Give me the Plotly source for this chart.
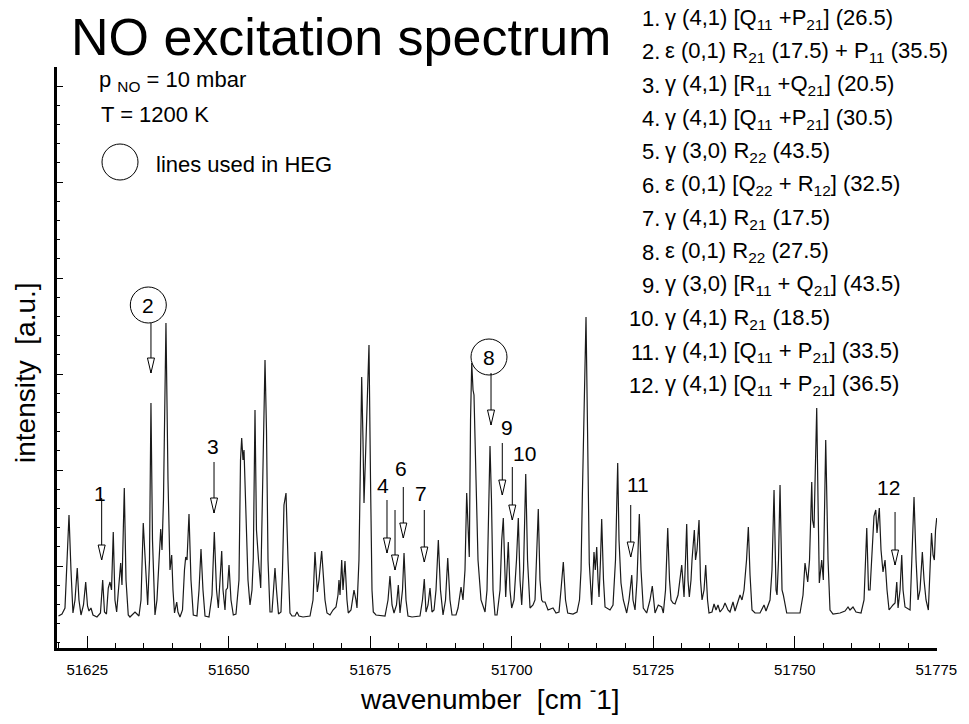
import plotly.graph_objects as go

# ---------------- spectrum data (wavenumber in cm^-1, intensity in a.u.) ----------------
wn_a = [51619.91, 51620.53, 51621.06, 51621.41, 51621.77, 51622.12, 51622.47, 51622.83, 51623.23, 51623.53,
        51623.89, 51624.33, 51624.72, 51625.04, 51625.30, 51625.65, 51626.01, 51626.71, 51627.33, 51627.72,
        51628.04, 51628.39, 51628.71, 51629.01, 51629.28, 51629.59, 51629.89, 51630.19, 51630.55, 51630.90,
        51631.13, 51631.54, 51631.84, 51632.24, 51632.54, 51633.07, 51633.43, 51633.78, 51634.13, 51634.49,
        51634.89, 51635.19, 51635.67, 51635.99, 51636.25, 51636.52, 51636.96, 51637.31, 51637.67, 51637.97,
        51638.20, 51638.46, 51638.90, 51639.26, 51639.61, 51639.91, 51640.14, 51640.41, 51640.80, 51641.02,
        51641.38, 51641.82, 51642.17, 51642.39, 51642.62, 51642.97, 51643.32, 51643.73, 51644.38, 51644.74,
        51645.09, 51645.44, 51645.80, 51646.50, 51647.03, 51647.44, 51647.83, 51648.15, 51648.45, 51648.75,
        51648.98, 51649.33, 51649.51, 51649.77, 51650.04, 51650.39, 51650.80, 51651.27, 51651.80, 51652.07,
        51652.28, 51652.51, 51652.69, 51653.04, 51653.39, 51653.75, 51654.10, 51654.33, 51654.63, 51654.89,
        51655.04, 51655.25, 51655.64, 51655.95, 51656.40, 51656.66, 51656.93, 51657.28, 51657.63, 51657.90,
        51658.16, 51658.43, 51658.78, 51659.22, 51659.49, 51659.75]
int_a = [1, 3, 9, 57, 102, 47, 4, 17, 49, 17,
         2, 12, 35, 11, 6, 9, 2, 0, 4, 37,
         5, 3, 29, 35, 27, 85, 17, 5, 27, 54,
         32, 129, 37, 2, 0, 3, 5, 3, 1, 17,
         94, 62, 12, 57, 214, 77, 2, 17, 57, 88,
         67, 117, 294, 137, 47, 62, 27, 4, 15, 5,
         0, 7, 47, 60, 57, 103, 37, 2, 1, 27,
         68, 27, 1, 0, 22, 85, 27, 9, 37, 66,
         27, 7, 27, 29, 52, 17, 2, 3, 37, 157,
         179, 157, 167, 97, 37, 12, 27, 59, 207, 87,
         72, 57, 29, 117, 257, 187, 57, 5, 5, 27,
         49, 27, 3, 5, 47, 112]

wn_b = [51660.11, 51660.46, 51660.81, 51661.17, 51661.70, 51662.05, 51662.40, 51663.11, 51664.35, 51664.88,
        51665.23, 51665.64, 51665.94, 51666.41, 51666.73, 51667.00, 51667.35, 51667.88, 51668.41, 51668.94,
        51669.29, 51669.47, 51669.65, 51669.95, 51670.18, 51670.53, 51670.88, 51671.11, 51671.59, 51672.12,
        51672.47, 51672.65, 51673.00, 51673.27, 51673.48, 51673.71, 51673.89, 51674.19, 51674.51, 51674.77,
        51675.04, 51675.30, 51675.53, 51676.01, 51677.60, 51678.13, 51678.48, 51678.84, 51679.19, 51679.63,
        51679.95, 51680.25, 51680.69, 51680.96, 51681.31, 51681.66, 51682.37, 51683.78, 51684.22, 51684.54,
        51684.84, 51685.20, 51685.55, 51685.90, 51686.26, 51686.61, 51687.02, 51687.40, 51687.85, 51688.29,
        51688.68, 51689.08, 51689.44, 51690.14, 51690.50, 51691.03, 51691.38, 51691.73, 51692.03, 51692.49,
        51692.71, 51692.92, 51693.15, 51693.32, 51693.68, 51694.03, 51694.56, 51695.27, 51695.62, 51695.88,
        51696.15, 51696.41, 51696.68, 51697.03, 51697.39, 51697.92, 51698.22, 51698.50]
int_b = [124, 57, 4, 1, 1, 5, 1, 0, 1, 17,
         65, 25, 37, 66, 32, 17, 4, 2, 7, 10,
         22, 37, 22, 57, 27, 56, 17, 4, 7, 27,
         17, 9, 57, 187, 240, 177, 114, 167, 217, 272,
         137, 27, 5, 2, 1, 17, 41, 12, 4, 12,
         32, 4, 27, 64, 17, 1, 0, 1, 17, 38,
         5, 12, 29, 5, 7, 27, 77, 27, 2, 17,
         59, 17, 2, 2, 9, 30, 17, 47, 124, 60,
         197, 254, 227, 222, 137, 57, 17, 5, 27, 117,
         171, 117, 27, 2, 2, 27, 77, 99]

wn_c = [51698.71, 51698.92, 51699.15, 51699.38, 51699.68, 51699.98, 51700.39, 51700.83, 51701.15, 51701.45,
        51701.75, 51702.07, 51702.46, 51702.78, 51703.22, 51703.75, 51704.10, 51704.37, 51704.68, 51704.98,
        51705.28, 51705.51, 51705.87, 51706.40, 51707.28, 51707.81, 51708.34, 51708.69, 51709.10, 51709.49,
        51709.88, 51710.81, 51711.52, 51711.96, 51712.23, 51712.46, 51712.76, 51713.11, 51713.38, 51713.69,
        51714.12, 51714.35, 51714.52, 51714.75, 51715.00, 51715.23, 51715.41, 51715.67, 51715.88, 51716.20,
        51716.47, 51717.35, 51717.88, 51718.32, 51718.71, 51718.94, 51719.29, 51719.70, 51720.30, 51720.71,
        51721.19, 51721.41, 51721.77, 51722.12, 51722.53, 51722.83, 51723.23, 51723.83, 51724.42, 51724.82,
        51725.12, 51725.30, 51725.88, 51726.49, 51726.77, 51727.16, 51727.55, 51727.86, 51728.13, 51728.48,
        51728.84, 51729.37, 51730.02, 51730.25, 51730.43, 51730.69, 51730.90, 51731.13, 51731.36, 51731.66,
        51731.84, 51732.25, 51732.46, 51732.72, 51733.08, 51733.34, 51733.61, 51733.96, 51734.26, 51734.58,
        51734.84, 51735.37, 51735.73, 51736.08, 51736.43, 51736.79, 51737.32]
int_c = [57, 20, 47, 75, 27, 9, 17, 57, 99, 37,
         12, 47, 143, 57, 9, 12, 17, 57, 108, 37,
         17, 15, 15, 7, 9, 4, 5, 27, 55, 17,
         4, 3, 5, 17, 47, 120, 197, 300, 187, 54,
         12, 37, 65, 47, 70, 37, 20, 57, 98, 37,
         10, 7, 12, 57, 154, 77, 34, 17, 4, 17,
         42, 17, 7, 37, 103, 47, 9, 4, 17, 31,
         9, 4, 12, 10, 4, 27, 89, 37, 17, 14,
         13, 22, 52, 27, 20, 57, 93, 37, 20, 37,
         57, 87, 57, 67, 97, 37, 17, 27, 52, 17,
         4, 5, 13, 7, 12, 5, 9]

wn_d = [51737.67, 51738.20, 51738.55, 51739.08, 51739.44, 51739.79, 51740.32, 51740.67, 51741.03, 51741.47,
        51741.79, 51742.09, 51742.44, 51742.97, 51743.85, 51744.56, 51744.91, 51745.62, 51745.97, 51746.33,
        51746.68, 51746.86, 51747.12, 51747.39, 51747.74, 51747.97, 51748.57, 51749.15, 51750.92, 51751.45,
        51751.80, 51752.28, 51752.60, 51752.99, 51753.13, 51753.39, 51753.87, 51754.10, 51754.33, 51754.75,
        51755.04, 51755.46, 51755.87, 51756.22, 51756.75, 51757.99, 51758.87, 51759.40, 51759.75, 51760.28,
        51760.81, 51761.70, 51762.23, 51762.71, 51763.02, 51763.29, 51763.64, 51763.99, 51764.30, 51764.52,
        51764.93, 51765.23, 51765.58, 51765.94, 51766.29, 51766.65, 51767.35, 51767.71, 51768.01, 51768.24,
        51768.59, 51768.89, 51769.12, 51769.47, 51770.36, 51770.71, 51771.06, 51771.42, 51771.77, 51772.12,
        51772.53, 51772.83, 51773.18, 51773.59, 51773.89, 51774.15, 51774.42, 51774.65, 51774.86, 51775.07]
int_d = [14, 7, 5, 15, 6, 12, 22, 17, 27, 57,
         90, 42, 7, 4, 4, 12, 6, 17, 47, 127,
         27, 22, 57, 132, 27, 22, 4, 4, 4, 22,
         54, 35, 57, 135, 97, 89, 209, 117, 34, 57,
         37, 177, 57, 7, 3, 4, 6, 10, 7, 10,
         5, 4, 17, 89, 27, 27, 67, 101, 107, 84,
         109, 67, 45, 57, 27, 7, 12, 14, 35, 9,
         27, 62, 27, 10, 7, 57, 120, 57, 17, 27,
         65, 37, 17, 7, 47, 84, 62, 57, 87, 99]

for xs, ys in ((wn_a, int_a), (wn_b, int_b), (wn_c, int_c), (wn_d, int_d)):
    assert len(xs) == len(ys), (len(xs), len(ys))

wavenumber = wn_a + wn_b + wn_c + wn_d
intensity = int_a + int_b + int_c + int_d

# ---------------- line markers ----------------
line_labels = ["1", "2", "3", "4", "", "6", "7", "8", "9", "10", "11", "12"]
arrow_wn = [51627.54, 51636.25, 51647.39, 51677.95, 51679.37, 51680.83, 51684.54, 51696.33,
            51698.32, 51700.09, 51721.01, 51767.71]
arrow_top = [119, 294, 155, 117, 107, 130, 107, 244, 174, 150, 112, 105]
arrow_tip = [57, 244, 104, 64, 47, 79, 55, 192, 122, 97, 60, 52]
label_wn = [51627.25, 51635.78, 51647.16, 51677.30, None, 51680.43, 51683.96, 51695.97,
            51699.10, 51702.21, 51722.35, 51766.52]
label_int = [124, 312, 171, 132, None, 149, 124, 260, 190, 164, 133, 130]
circled = ["2", "8"]

assignments = [
    "γ (4,1) [Q<sub>11</sub> +P<sub>21</sub>] (26.5)",
    "ε (0,1) R<sub>21</sub> (17.5) + P<sub>11</sub> (35.5)",
    "γ (4,1) [R<sub>11</sub> +Q<sub>21</sub>] (20.5)",
    "γ (4,1) [Q<sub>11</sub> +P<sub>21</sub>] (30.5)",
    "γ (3,0) R<sub>22</sub> (43.5)",
    "ε (0,1) [Q<sub>22</sub> + R<sub>12</sub>] (32.5)",
    "γ (4,1) R<sub>21</sub> (17.5)",
    "ε (0,1) R<sub>22</sub> (27.5)",
    "γ (3,0) [R<sub>11</sub> + Q<sub>21</sub>] (43.5)",
    "γ (4,1) R<sub>21</sub> (18.5)",
    "γ (4,1) [Q<sub>11</sub> + P<sub>21</sub>] (33.5)",
    "γ (4,1) [Q<sub>11</sub> + P<sub>21</sub>] (36.5)",
]

# ---------------- layout geometry ----------------
W, H = 969, 724
ML, MR, MT, MB = 57, 32, 67, 76
PW, PH = W - ML - MR, H - MT - MB
FONT = "Liberation Sans, Arial, Helvetica, sans-serif"


def px(xp):
    return (xp - ML) / PW


def py(yp):
    return (H - MB - yp) / PH


fig = go.Figure()
fig.add_trace(go.Scatter(x=wavenumber, y=intensity, mode="lines",
                         line=dict(color="#1a1a1a", width=1.2), hoverinfo="skip",
                         showlegend=False))

annotations = []
shapes = []


def text(t, x, y, size, xanchor="left", yanchor="middle", xref="paper", yref="paper", angle=0):
    annotations.append(dict(text=t, x=x, y=y, xref=xref, yref=yref, xanchor=xanchor,
                            yanchor=yanchor, showarrow=False, textangle=angle,
                            borderpad=0, font=dict(family=FONT, size=size, color="black")))


# title
text("NO excitation spectrum", px(70), py(37), 52)

# assignment list (top right)
for k, desc in enumerate(assignments):
    yc = 18.5 + 33.36 * k
    text(f"{k + 1}.", px(661), py(yc), 22, xanchor="right")
    text(desc, px(664), py(yc), 22, xanchor="left")

# conditions
text("p <sub>NO</sub> = 10 mbar", px(98), py(81), 22)
text("T = 1200 K", px(100), py(115), 22)
text("lines used in HEG", px(155), py(164), 22)
shapes.append(dict(type="circle", xref="paper", yref="paper", xsizemode="pixel", ysizemode="pixel",
                   xanchor=px(120), yanchor=py(162), x0=-18, x1=18, y0=-18, y1=18,
                   line=dict(color="black", width=1)))

# axis titles
text("wavenumber&nbsp; [cm <sup>-</sup>1]", px(359), py(697), 28)
text("intensity&nbsp; [a.u.]", px(25), py(373), 28, xanchor="center", angle=-90)

# arrows and labels
for lab, xa, yt, yb, lx, ly in zip(line_labels, arrow_wn, arrow_top, arrow_tip, label_wn, label_int):
    shapes.append(dict(type="line", xref="x", yref="y", x0=xa, x1=xa, y0=yb, y1=yt,
                       line=dict(color="black", width=1)))
    shapes.append(dict(type="path", xref="x", yref="y", xsizemode="pixel", ysizemode="pixel",
                       xanchor=xa, yanchor=yb, path="M-3.5,15 L3.5,15 L0,0 Z",
                       fillcolor="white", line=dict(color="black", width=1)))
    if lab:
        text(lab, lx, ly, 21, xanchor="center", xref="x", yref="y")
        if lab in circled:
            shapes.append(dict(type="circle", xref="x", yref="y", xsizemode="pixel",
                               ysizemode="pixel", xanchor=lx, yanchor=ly,
                               x0=-18, x1=18, y0=-18, y1=18,
                               line=dict(color="black", width=1)))

fig.update_layout(
    width=W, height=H,
    margin=dict(l=ML, r=MR, t=MT, b=MB, pad=0),
    paper_bgcolor="white", plot_bgcolor="white",
    annotations=annotations, shapes=shapes,
    xaxis=dict(range=[51619.65, 51775.12], showgrid=False, zeroline=False,
               showline=True, linecolor="black", linewidth=3,
               ticks="inside", ticklen=12, tickwidth=1.2, tickcolor="black",
               tick0=51625, dtick=25, tickformat="d", ticklabelstandoff=6,
               tickfont=dict(family=FONT, size=15, color="black"),
               minor=dict(ticks="inside", ticklen=5, tickwidth=1, tickcolor="black",
                          dtick=5, tick0=51625, showgrid=False)),
    yaxis=dict(range=[-31, 550], showgrid=False, zeroline=False,
               showline=True, linecolor="black", linewidth=3,
               ticks="inside", ticklen=6, tickwidth=1, tickcolor="black",
               tick0=51, dtick=96, showticklabels=False,
               minor=dict(ticks="inside", ticklen=3, tickwidth=1, tickcolor="black",
                          dtick=19.2, tick0=51, showgrid=False)),
)

fig.write_html("out.html", config={"displayModeBar": False},
               post_script="document.body.style.margin='0px';document.body.style.padding='0px';")
